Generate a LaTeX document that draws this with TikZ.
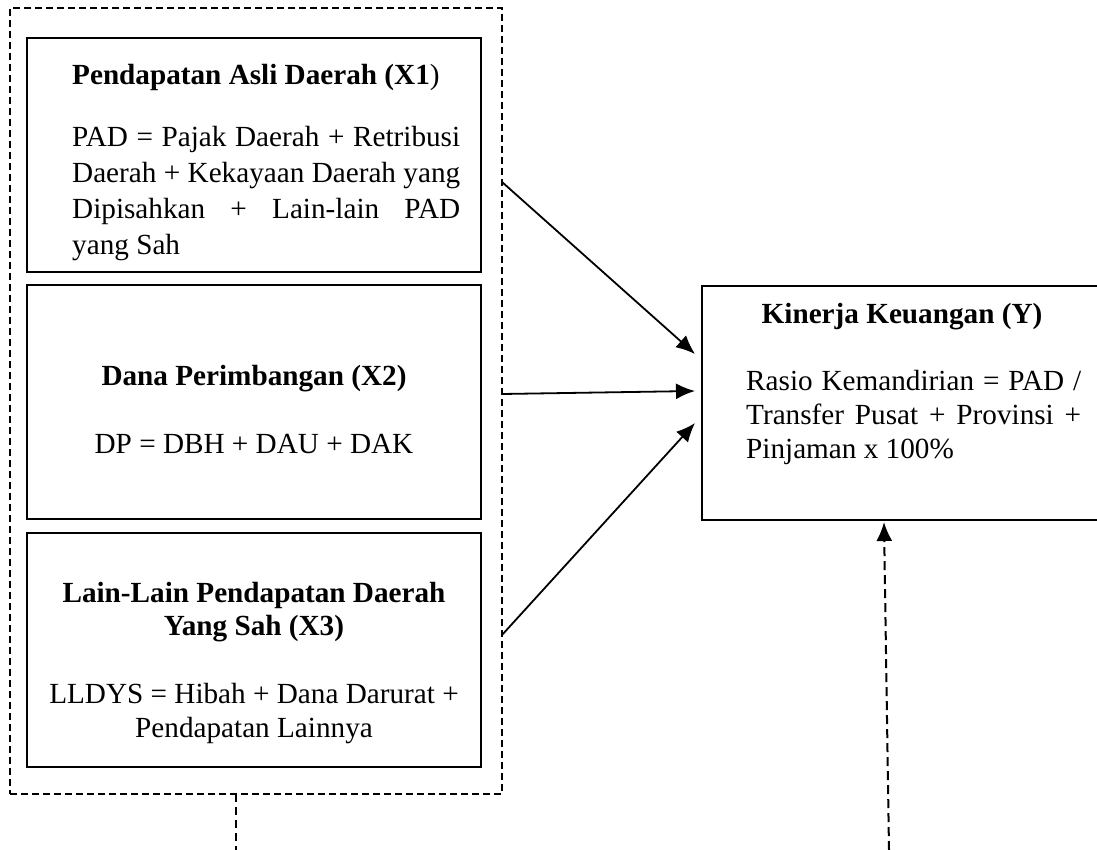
\documentclass[tikz,border=0pt]{standalone}
\usepackage{fontspec}
\setmainfont{Liberation Serif}
\usetikzlibrary{arrows.meta}
\newcommand\fsz{\fontsize{29.2}{35}\selectfont}
\begin{document}
\begin{tikzpicture}[x=1pt,y=-1pt,
  box/.style={draw, line width=2.4pt, rectangle, inner sep=0pt, outer sep=0pt, anchor=north west},
  grpbox/.style={draw, line width=2.6pt, dash pattern=on 7pt off 4pt, rectangle, inner sep=0pt, outer sep=0pt, anchor=north west},
  tl/.style={inner sep=0pt, anchor=base west, font=\fsz},
  tc/.style={inner sep=0pt, anchor=base, font=\fsz},
  arr/.style={line width=1.8pt, -{Latex[length=19pt,width=16pt]}},
  darr/.style={line width=2pt, dash pattern=on 9pt off 5pt, -{Latex[length=19pt,width=16pt]}},
  dline/.style={line width=2pt, dash pattern=on 8pt off 5pt}]
\useasboundingbox (0,0) rectangle (1097,850);
\fill[white] (0,0) rectangle (1097,850);
\clip (0,0) rectangle (1097,850);

% group and boxes
\node[grpbox, minimum width=492pt, minimum height=786pt] (grp) at (10,8) {};
\node[box, minimum width=454pt, minimum height=234pt] (x1) at (27,38) {};
\node[box, minimum width=454pt, minimum height=234pt] (x2) at (27,285) {};
\node[box, minimum width=454pt, minimum height=234pt] (x3) at (27,533) {};
\node[box, minimum width=408pt, minimum height=234pt] (y) at (702,286) {};

% X1 texts
\node[tl] (x1t) at (72,85) {\textbf{Pendapatan Asli Daerah (X1})};
\node[tl] (x1a) at (72,147) {\makebox[388pt][s]{PAD = Pajak Daerah + Retribusi}};
\node[tl] (x1b) at (72,183) {\makebox[388pt][s]{Daerah + Kekayaan Daerah yang}};
\node[tl] (x1c) at (72,218.5) {\makebox[388pt][s]{Dipisahkan + Lain-lain PAD}};
\node[tl] (x1d) at (72,254.5) {yang Sah};

% X2 texts
\node[tc] (x2t) at (254,385) {\textbf{Dana Perimbangan (X2)}};
\node[tc] (x2a) at (254,453) {DP = DBH + DAU + DAK};

% X3 texts
\node[tc] (x3t) at (254,602) {\textbf{Lain-Lain Pendapatan Daerah}};
\node[tc] (x3u) at (254,635) {\textbf{Yang Sah (X3)}};
\node[tc] (x3a) at (254,703) {LLDYS = Hibah + Dana Darurat +};
\node[tc] (x3b) at (254,737) {Pendapatan Lainnya};

% Y texts
\node[tc] (yt) at (902,323.5) {\textbf{Kinerja Keuangan (Y)}};
\node[tl] (ya) at (746,390.5) {\makebox[335pt][s]{Rasio Kemandirian = PAD /}};
\node[tl] (yb) at (746,424.5) {\makebox[335pt][s]{Transfer Pusat + Provinsi +}};
\node[tl] (yc) at (746,458) {Pinjaman x 100\%};

% connectors
\draw[arr] ([yshift=-174pt]grp.north east) -- ([xshift=-7pt,yshift=-68pt]y.north west);
\draw[arr] ([yshift=-386pt]grp.north east) -- ([xshift=-7pt,yshift=-105pt]y.north west);
\draw[arr] ([yshift=-627pt]grp.north east) -- ([xshift=-7pt,yshift=-137pt]y.north west);

\coordinate (gEnd) at (236,850);
\draw[dline] (grp.south -| gEnd) -- (gEnd);
\coordinate (yEnd) at (889,850);
\draw[darr] (yEnd) -- ([xshift=182pt,yshift=-2pt]y.south west);
\end{tikzpicture}
\end{document}
